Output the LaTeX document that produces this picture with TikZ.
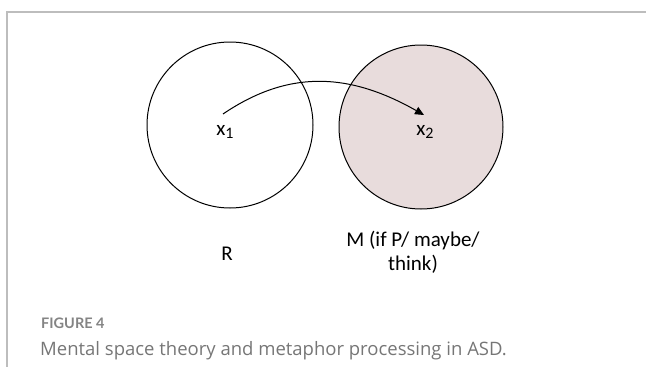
\documentclass[tikz,border=0pt]{standalone}
\usepackage{fontspec}
\setmainfont{Carlito}
\newfontfamily\capfont{Open Sans}
\newfontfamily\figfont{Lato}
\usetikzlibrary{arrows.meta}
\definecolor{fillpink}{HTML}{E8DCDC}
\definecolor{framegray}{HTML}{BDBDBD}
\definecolor{capgray}{HTML}{767676}
\newcommand{\mysub}[1]{\raisebox{-0.3ex}{\fontsize{16}{16}\selectfont #1}}
\tikzset{
  space/.style={circle,draw=black,line width=1pt,minimum size=166pt,inner sep=0pt},
  lbl/.style={font=\fontsize{21}{24}\selectfont,inner sep=0pt,align=center,anchor=base},
}
\begin{document}
\begin{tikzpicture}[x=1pt,y=-1pt]
\useasboundingbox (0,0) rectangle (646,367);
\draw[framegray,line width=1.2pt] (7,367) -- (7,12) -- (646,12);
\node[space] (R) at (230,125) {};
\node[space,fill=fillpink,minimum size=164pt] (M) at (421,127) {};
\node[lbl] (x1) at (225,135) {x\mysub{1}};
\node[lbl] (x2) at (425,135) {x\mysub{2}};
\coordinate (s) at (223,114);
\coordinate (e) at (424,115);
\draw[line width=1pt,-{Triangle[length=9pt,width=8pt]}] (s) .. controls (285,72) and (345,70) .. (e);
\node[lbl] (rl) at (227,260) {R};
\node[lbl] (ml) at (413,270) {M (if P/ maybe/\\think)};
\node[font=\figfont\bfseries\fontsize{14.5}{16}\selectfont,text=capgray!90!white,anchor=base west,inner sep=0pt] (fig) at (41,328) {FIGURE 4};
\node[font=\capfont\fontsize{18.5}{22}\selectfont,text=capgray,anchor=base west,inner sep=0pt] (cap) at (40,355) {Mental space theory and metaphor processing in ASD.};
\end{tikzpicture}
\end{document}
